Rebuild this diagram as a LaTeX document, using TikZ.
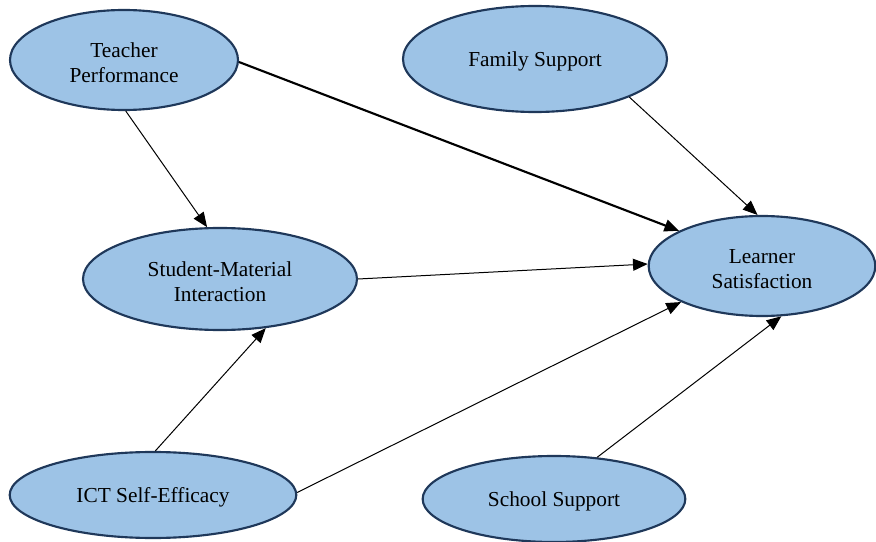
\documentclass[tikz,border=0pt]{standalone}
\usepackage{fontspec}
\setmainfont{Liberation Serif}
\usetikzlibrary{shapes.geometric,arrows.meta}
\definecolor{efill}{RGB}{157,195,230}
\definecolor{edraw}{RGB}{31,56,90}
\begin{document}
\begin{tikzpicture}[x=0.75pt,y=-0.75pt,
  var/.style={ellipse, draw=edraw, line width=1.6pt, fill=efill, inner sep=0pt,
    align=center, font=\fontsize{16}{18.75}\selectfont},
  vtext/.style={align=center, inner sep=0pt, font=\fontsize{16}{18.75}\selectfont},
  link/.style={-{Triangle[length=11pt,width=9pt]}, line width=0.75pt, black},
  strong/.style={link, line width=1.6pt}]
\useasboundingbox (0,0) rectangle (876,542);
\node[var, minimum width=171pt, minimum height=75pt] (T) at (124,60) {};
\node[var, minimum width=198pt, minimum height=79.5pt] (F) at (535,59) {};
\node[var, minimum width=205.5pt, minimum height=76.5pt] (SM) at (220,279) {};
\node[var, minimum width=170pt, minimum height=75pt] (L) at (762,266) {};
\node[var, minimum width=215pt, minimum height=64.5pt] (I) at (153,495) {};
\node[var, minimum width=197pt, minimum height=64.5pt] (S) at (554,499) {};
\node[vtext] (Tt) at (124,63) {Teacher\\Performance};
\node[vtext] (Ft) at (535,61) {Family Support};
\node[vtext] (SMt) at (220,282) {Student-Material\\Interaction};
\node[vtext] (Lt) at (762,269) {Learner\\Satisfaction};
\node[vtext] (It) at (153,497) {ICT Self-Efficacy};
\node[vtext] (St) at (554,501) {School Support};
\draw[link] (T.-88) -- (SM.104);
\draw[strong] (T.-1) -- (L.157);
\draw[link] (F.-22) -- (L.95);
\draw[link] (SM.0) -- (L.179);
\draw[link] (I.87) -- (SM.-47);
\draw[link] (I.1) -- (L.204);
\draw[link] (S.44) -- (L.-69);
\end{tikzpicture}
\end{document}
